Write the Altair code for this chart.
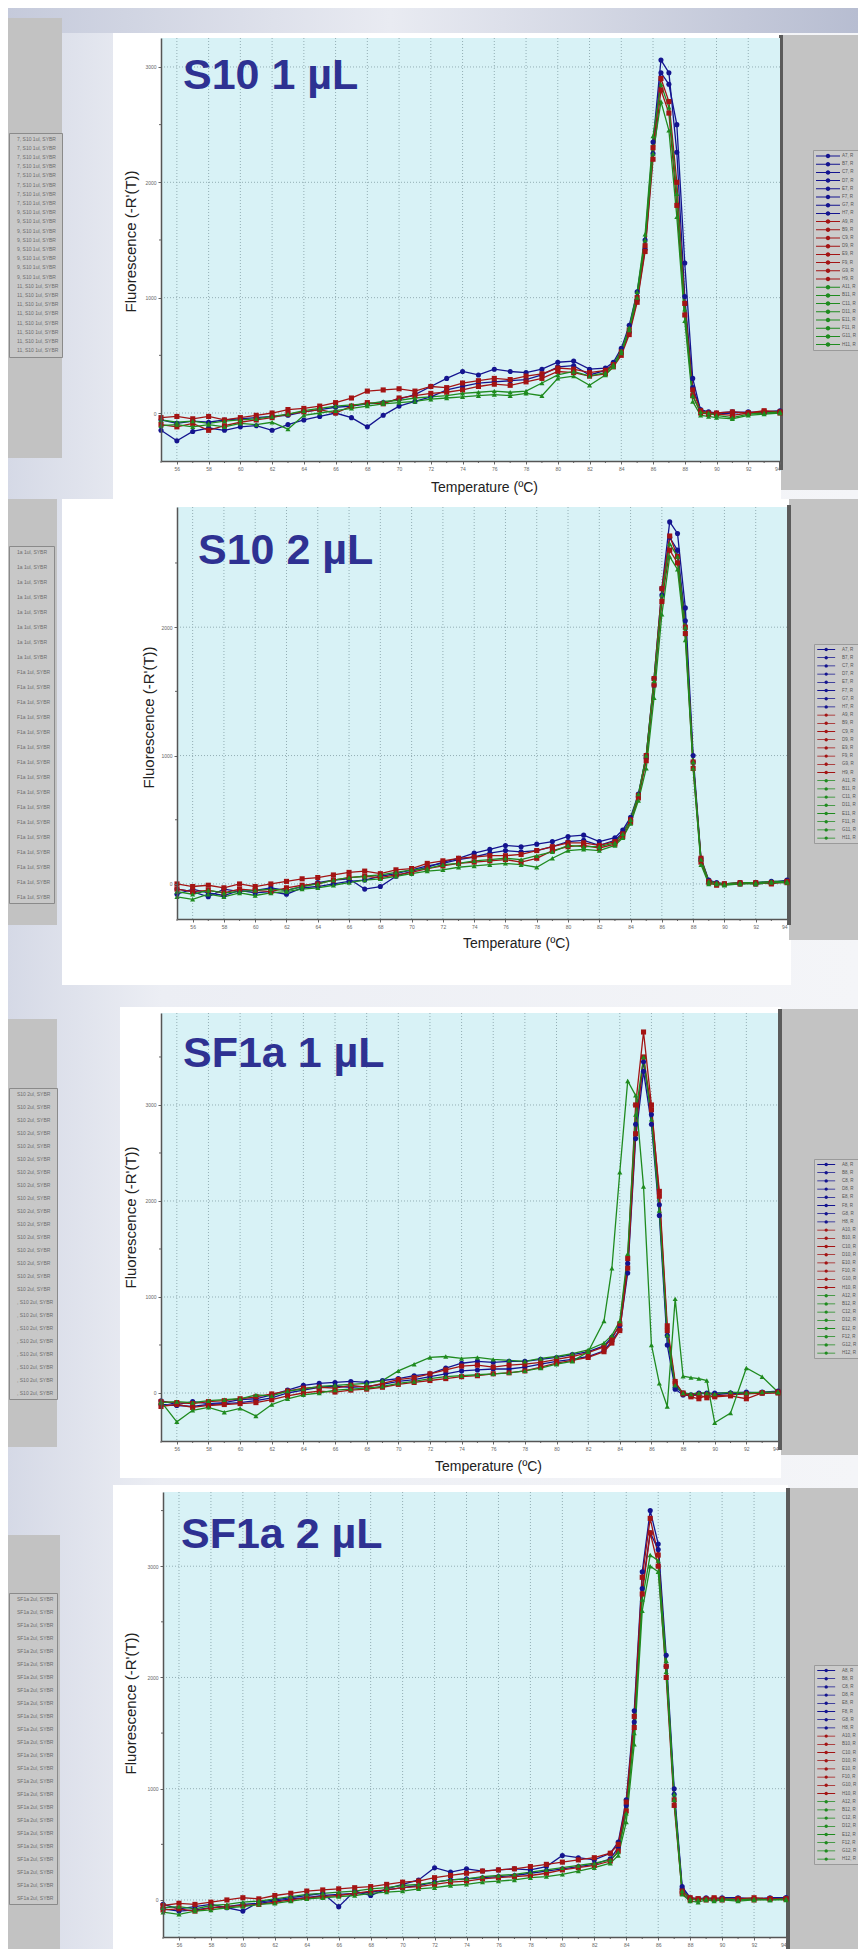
import altair as alt
import pandas as pd

FONT = "Liberation Sans, Arial, sans-serif"

# ---------------- data ----------------
TEMPS = [55, 56, 57, 58, 59, 60, 61, 62, 63, 64, 65, 66, 67, 68, 69, 70, 71, 72, 73, 74,
         75, 76, 77, 78, 79, 80, 81, 82, 83, 83.5, 84, 84.5, 85, 85.5, 86, 86.5, 87, 87.5,
         88, 88.5, 89, 89.5, 90, 91, 92, 93, 94]
X_TICKS = [56, 58, 60, 62, 64, 66, 68, 70, 72, 74, 76, 78, 80, 82, 84, 86, 88, 90, 92, 94]
X_MINOR = [55, 57, 59, 61, 63, 65, 67, 69, 71, 73, 75, 77, 79, 81, 83, 85, 87, 89, 91, 93]
GRID_X = [56, 58, 60, 62, 64, 66, 68, 70, 72, 74, 76, 78, 80, 82, 84, 86, 88, 90, 92]

TITLES = ["S10 1 µL", "S10 2 µL", "SF1a 1 µL", "SF1a 2 µL"]
Y_TITLE = "Fluorescence (-R'(T))"
X_TITLE = "Temperature (ºC)"

# Panel 1 : S10 1 uL
P1_BLUE_A = [-60, -90, -70, -80, -60, -50, -40, -30, -20, 10, 30, 50, 60, 80, 90, 120, 160, 230, 300, 360, 330, 380, 360, 350, 380, 440, 450, 380, 390,
             440, 560, 760, 1050, 1500, 2350, 3060, 2950, 2260, 1010, 220, 30, 10, 0, 10, 0, 10, 20]
P1_BLUE_B = [-150, -240, -160, -130, -150, -120, -110, -150, -100, -60, -30, 0, -40, -120, -20, 60, 100, 140, 200, 230, 260, 270, 280, 290, 330, 400, 410, 330, 370,
             420, 520, 700, 980, 1420, 2250, 2950, 2850, 2500, 1300, 300, 20, 0, -10, 0, 10, 0, 10]
P1_RED_A = [-40, -30, -50, -30, -60, -40, -20, 0, 30, 40, 60, 90, 130, 190, 200, 210, 190, 230, 220, 260, 280, 300, 290, 320, 340, 390, 380, 350, 370,
            420, 530, 720, 1000, 1450, 2300, 2900, 2700, 2000, 950, 200, 20, 0, 0, 10, 0, 20, 10]
P1_RED_B = [-100, -120, -90, -150, -110, -80, -60, -40, -10, 10, 30, 0, 60, 90, 80, 130, 150, 170, 180, 200, 230, 250, 240, 270, 300, 360, 350, 320, 340,
            400, 500, 680, 960, 1400, 2200, 2800, 2600, 1800, 850, 150, 0, -10, -10, -20, 0, 10, 0]
P1_GREEN_A = [-60, -80, -70, -90, -70, -60, -50, -30, -10, 20, 40, 60, 70, 80, 100, 110, 130, 140, 150, 170, 180, 190, 180, 190, 260, 330, 360, 320, 350,
              420, 540, 740, 1050, 1550, 2400, 2850, 2650, 1900, 900, 150, 10, 0, -20, -40, -10, 0, 10]
P1_GREEN_B = [-110, -100, -120, -100, -120, -90, -100, -80, -140, -20, 0, 20, 40, 60, 80, 90, 100, 120, 130, 140, 150, 160, 150, 170, 150, 300, 320, 240, 330,
              400, 520, 720, 1000, 1500, 2250, 2700, 2450, 1700, 800, 100, -20, -30, -40, -50, -20, -10, 0]

# Panel 2 : S10 2 uL
P2_BLUE_A = [-40, -60, -100, -40, -60, -50, -30, -50, -20, 10, 30, 40, -40, -20, 60, 100, 130, 170, 200, 240, 270, 300, 290, 310, 330, 370, 380, 330, 360,
             420, 520, 700, 1000, 1600, 2300, 2820, 2730, 2150, 1000, 200, 30, 10, 0, 0, 10, 20, 20]
P2_BLUE_B = [-80, -40, -70, -90, -50, -70, -60, -80, -30, -20, 0, 20, 30, 60, 80, 110, 140, 160, 190, 210, 240, 260, 250, 260, 290, 330, 340, 300, 340,
             400, 500, 680, 980, 1550, 2250, 2700, 2600, 2050, 950, 180, 20, 0, 0, 10, 0, 10, 30]
P2_RED_A = [0, -20, -10, -30, 0, -20, 0, 20, 40, 50, 70, 90, 100, 80, 110, 120, 160, 180, 200, 210, 220, 220, 230, 260, 290, 320, 320, 300, 330,
            390, 500, 690, 1000, 1600, 2300, 2710, 2550, 2000, 950, 200, 20, 0, 0, 10, 0, 10, 10]
P2_RED_B = [-40, -60, -50, -70, -40, -50, -60, -30, -10, 0, 30, 50, 60, 50, 70, 90, 120, 140, 160, 170, 180, 190, 170, 200, 260, 290, 300, 280, 310,
            370, 480, 670, 960, 1550, 2200, 2600, 2500, 1950, 900, 170, 10, -10, 0, 0, 10, 0, 20]
P2_GREEN_A = [-60, -80, -50, -70, -60, -50, -40, -50, -20, 0, 30, 50, 60, 70, 90, 110, 120, 150, 160, 180, 190, 200, 190, 220, 250, 300, 290, 290, 320,
              390, 500, 700, 1000, 1580, 2250, 2650, 2550, 2000, 950, 190, 20, 10, 0, 10, 10, 20, 20]
P2_GREEN_B = [-100, -120, -80, -100, -70, -90, -70, -60, -40, -30, -10, 10, 30, 40, 60, 80, 100, 110, 130, 140, 150, 160, 150, 130, 200, 260, 270, 260, 300,
              360, 470, 650, 900, 1450, 2100, 2550, 2450, 1900, 900, 150, 0, 0, -10, 0, 0, 10, 10]

# Panel 3 : SF1a 1 uL
P3_BLUE_A = [-80, -120, -90, -110, -100, -70, -60, -20, 30, 80, 100, 110, 120, 110, 130, 150, 180, 200, 260, 310, 330, 320, 330, 330, 350, 370, 400, 430, 490,
             580, 700, 1350, 2800, 3450, 2900, 1960, 600, 60, 0, -20, 0, -10, 0, 0, -10, 10, 20]
P3_BLUE_B = [-120, -130, -140, -120, -110, -100, -80, -50, 0, 30, 60, 70, 60, 70, 90, 120, 140, 170, 200, 230, 240, 250, 250, 270, 300, 330, 350, 380, 440,
             540, 660, 1250, 2650, 3350, 2800, 1850, 500, 40, -20, -30, -10, 0, -20, 0, 10, 0, 10]
P3_RED_A = [-90, -100, -110, -90, -80, -60, -40, -10, 20, 50, 60, 50, 80, 60, 100, 140, 160, 200, 240, 280, 290, 270, 290, 300, 320, 350, 380, 420, 480,
            560, 720, 1400, 3000, 3760, 3000, 2050, 650, 100, 0, -40, -60, -20, -40, -30, -60, 0, 10]
P3_RED_B = [-140, -120, -150, -130, -120, -110, -100, -70, -30, 0, 20, 10, 30, 40, 60, 90, 110, 130, 150, 170, 180, 200, 210, 230, 270, 310, 340, 370, 430,
            520, 650, 1300, 2700, 3500, 2950, 2100, 700, 120, -10, -30, -20, -50, -30, -20, -10, 0, 0]
P3_GREEN_A = [-100, -90, -100, -80, -70, -60, -20, -30, 20, 40, 70, 80, 90, 100, 130, 230, 300, 370, 380, 360, 370, 350, 340, 330, 360, 380, 410, 450, 520,
              600, 750, 1450, 2900, 3500, 2850, 1900, 600, 80, 0, -10, 0, 0, -10, 10, 0, 10, 10]
P3_GREEN_B = [-90, -300, -180, -150, -200, -160, -240, -120, -60, -20, 0, 30, 40, 50, 70, 100, 120, 150, 170, 180, 190, 200, 210, 230, 260, 300, 330, 430, 750,
              1300, 2300, 3250, 3100, 2150, 500, 100, -140, 980, 175, 160, 150, 130, -310, -210, 260, 170, 10]

# Panel 4 : SF1a 2 uL
P4_BLUE_A = [-40, -80, -60, -40, -70, -100, -20, 0, 20, 40, 60, -60, 80, 40, 100, 140, 180, 290, 250, 280, 260, 270, 280, 270, 300, 400, 380, 360, 420,
             520, 900, 1700, 2950, 3500, 3200, 2200, 1000, 120, 20, 10, 20, 10, 20, 20, 10, 20, 20]
P4_BLUE_B = [-80, -100, -90, -70, -60, -40, -30, -10, 10, 20, 40, 50, 60, 70, 90, 110, 130, 160, 180, 190, 200, 210, 220, 240, 260, 280, 300, 320, 370,
             470, 850, 1600, 2800, 3300, 3150, 2100, 950, 100, 10, 0, 10, 0, 10, 0, 10, 10, 20]
P4_RED_A = [-50, -30, -40, -20, 0, 20, 10, 40, 60, 80, 90, 100, 110, 120, 140, 160, 170, 200, 220, 240, 260, 270, 280, 300, 320, 340, 360, 380, 420,
            500, 880, 1650, 2900, 3430, 3100, 2100, 900, 80, 20, 10, 10, 20, 10, 10, 20, 10, 10]
P4_RED_B = [-90, -80, -100, -70, -60, -50, -40, -20, 0, 20, 30, 40, 60, 80, 90, 110, 120, 140, 160, 170, 190, 200, 210, 220, 240, 270, 290, 310, 350,
            440, 800, 1550, 2750, 3300, 3000, 2000, 850, 60, 0, 10, 0, 10, 0, 10, 0, 10, 10]
P4_GREEN_A = [-70, -60, -80, -50, -40, -20, -10, 10, 30, 50, 60, 70, 80, 100, 110, 130, 140, 160, 180, 190, 210, 220, 230, 250, 270, 290, 310, 330, 360,
              430, 780, 1500, 2700, 3100, 3050, 2150, 950, 80, 10, 0, 10, 0, 10, 0, 10, 0, 10]
P4_GREEN_B = [-110, -130, -100, -90, -70, -60, -40, -30, -10, 10, 20, 30, 40, 60, 70, 80, 100, 110, 130, 140, 160, 170, 180, 200, 210, 230, 260, 290, 330,
              400, 700, 1400, 2600, 3000, 2950, 2050, 900, 50, -10, -20, 0, -10, 0, -10, 0, 0, 0]

ROWS_AH = ["A", "B", "C", "D", "E", "F", "G", "H"]
COLS_ODD = [7, 9, 11]
COLS_EVEN = [8, 10, 12]
LEFT_SUFFIX = [", S10 1ul, SYBR", ", SF1a 1ul, SYBR", ", S10 2ul, SYBR", ", SF1a 2ul, SYBR"]

BLUE, RED, GREEN = "#14148f", "#a31414", "#1f8b1f"

SVG_W, SVG_H = 850, 1941   # drawing area (page minus the 8px body margin)

# ---------------- layout (page pixel geometry) ----------------
PANELS = [
    dict(title=TITLES[0], curves=[P1_BLUE_A, P1_BLUE_B, P1_RED_A, P1_RED_B, P1_GREEN_A, P1_GREEN_B],
         cols=COLS_ODD, left_cols=COLS_ODD, left_suffix=LEFT_SUFFIX[0], left_cut=1,
         origin=(161, 38), size=(619, 423), ydom=[-416, 3251], yticks=[0, 1000, 2000, 3000],
         yminor=[500, 1500, 2500],
         frame=(113, 33, 781, 499), right=(781, 35, 858, 490), sep=(779, 35, 783, 470),
         left=(8, 18, 62, 458), leftleg=(9, 133, 3.2), rightleg=(813, 150, 36, 2.2),
         tpos=(183, 89), ytitle=(130, 241), xtitle=(484, 487)),
    dict(title=TITLES[1], curves=[P2_BLUE_A, P2_BLUE_B, P2_RED_A, P2_RED_B, P2_GREEN_A, P2_GREEN_B],
         cols=COLS_ODD, left_cols=COLS_EVEN, left_suffix=LEFT_SUFFIX[1], left_cut=6,
         origin=(177, 507), size=(610, 412), ydom=[-273, 2936], yticks=[0, 1000, 2000],
         yminor=[500, 1500, 2500],
         frame=(62, 499, 791, 985), right=(789, 499, 858, 940), sep=(787, 505, 791, 925),
         left=(8, 499, 57, 925), leftleg=(9, 546, 9), rightleg=(814, 644, 20, 2.2),
         tpos=(198, 564), ytitle=(148, 717), xtitle=(516, 943)),
    dict(title=TITLES[2], curves=[P3_BLUE_A, P3_BLUE_B, P3_RED_A, P3_RED_B, P3_GREEN_A, P3_GREEN_B],
         cols=COLS_EVEN, left_cols=COLS_ODD, left_suffix=LEFT_SUFFIX[2], left_cut=3,
         origin=(161, 1013), size=(617, 428), ydom=[-500, 3958], yticks=[0, 1000, 2000, 3000],
         yminor=[500, 1500, 2500, 3500],
         frame=(120, 1007, 781, 1478), right=(781, 1009, 858, 1455), sep=(778, 1009, 782, 1450),
         left=(8, 1019, 57, 1447), leftleg=(9, 1088, 7), rightleg=(814, 1159, 20, 2.2),
         tpos=(183, 1067), ytitle=(130, 1217), xtitle=(488, 1466)),
    dict(title=TITLES[3], curves=[P4_BLUE_A, P4_BLUE_B, P4_RED_A, P4_RED_B, P4_GREEN_A, P4_GREEN_B],
         cols=COLS_EVEN, left_cols=COLS_EVEN, left_suffix=LEFT_SUFFIX[3], left_cut=4,
         origin=(163, 1492), size=(623, 445), ydom=[-333, 3667], yticks=[0, 1000, 2000, 3000],
         yminor=[500, 1500, 2500, 3500],
         frame=(113, 1485, 788, 1949), right=(788, 1488, 858, 1949), sep=(786, 1488, 790, 1949),
         left=(8, 1535, 60, 1949), leftleg=(9, 1593, 7), rightleg=(814, 1665, 20, 2.2),
         tpos=(181, 1548), ytitle=(130, 1703), xtitle=None),
]

LEGEND_PATH = ("M-1,-0.17H7V0.17H-1Z "
               "M3.75,0A0.75,0.75,0,1,1,2.25,0A0.75,0.75,0,1,1,3.75,0Z")

ONE = pd.DataFrame({"k": [0]})


def sx(px):
    return px - 8


def sy(py):
    return py - 8


def box(x1, y1, x2, y2, color):
    return alt.Chart(ONE).mark_rect(color=color).encode(
        x=alt.value(sx(x1)), x2=alt.value(sx(x2)),
        y=alt.value(sy(y1)), y2=alt.value(sy(y2)))


def well_list(cols):
    return [r + str(c) for c in cols for r in ROWS_AH]


def decor(cfg):
    ox, oy = cfg["origin"]
    w, h = cfg["size"]
    out = []
    fx1, fy1, fx2, fy2 = cfg["frame"]
    out.append(box(fx1, fy1, fx2, fy2, "#ffffff"))
    lx1, ly1, lx2, ly2 = cfg["left"]
    out.append(box(lx1, ly1, lx2, ly2, "#c2c2c2"))
    gx1, gy1, gx2, gy2 = cfg["right"]
    out.append(box(gx1, gy1, gx2, gy2, "#c3c3c3"))
    s1, s2, s3, s4 = cfg["sep"]
    out.append(box(s1, s2, s3, s4, "#5b5b5b"))
    out.append(box(ox, oy, ox + w, oy + h, "#d8f2f6"))
    return out


def panel(cfg):
    ox, oy = cfg["origin"]
    w, h = cfg["size"]
    wells = well_list(cfg["cols"])
    colors24 = [BLUE] * 8 + [RED] * 8 + [GREEN] * 8
    groups = ["b", "b", "r", "r", "g", "g"]
    names = [wells[0], wells[4], wells[8], wells[12], wells[16], wells[20]]
    recs = []
    for name, grp, vals in zip(names, groups, cfg["curves"]):
        for t, v in zip(TEMPS, vals):
            recs.append({"T": t, "v": v, "well": name, "grp": grp})
    df = pd.DataFrame(recs)

    xs = alt.Scale(domain=[55, 94], range=[sx(ox), sx(ox + w)], nice=False, zero=False)
    ys = alt.Scale(domain=cfg["ydom"], range=[sy(oy + h), sy(oy)], nice=False, zero=False)

    common = dict(format="d", grid=False, zindex=1,
                  labelFontSize=5, labelColor="#666666", labelFont=FONT, labelPadding=2,
                  tickSize=3, tickColor="#666666", domainColor="#555555", domainWidth=1.5,
                  titleFont=FONT, titleFontWeight="normal", titleColor="#222222")
    xt = cfg["xtitle"]
    x_off = sy(oy + h) - SVG_H
    if xt is None:
        xa = alt.Axis(orient="bottom", offset=x_off, values=X_TICKS, title="", **common)
    else:
        xa = alt.Axis(orient="bottom", offset=x_off, values=X_TICKS, title=X_TITLE,
                      titleFontSize=14, titleX=sx(xt[0]), titleY=xt[1] - (oy + h),
                      titleBaseline="middle", titleAlign="center", **common)
    ya = alt.Axis(orient="left", offset=-sx(ox), values=cfg["yticks"], title=Y_TITLE,
                  titleFontSize=15, titleAngle=270, titleX=cfg["ytitle"][0] - ox,
                  titleY=sy(cfg["ytitle"][1]), titleBaseline="middle", titleAlign="center",
                  **common)

    grid_x = alt.Chart(pd.DataFrame({"T": GRID_X})).mark_rule(
        color="#93aeb4", strokeDash=[1, 2], strokeWidth=1).encode(
        x=alt.X("T:Q", scale=xs, axis=xa),
        y=alt.value(sy(oy)), y2=alt.value(sy(oy + h)))
    grid_y = alt.Chart(pd.DataFrame({"v": cfg["yticks"]})).mark_rule(
        color="#93aeb4", strokeDash=[1, 2], strokeWidth=1).encode(
        y=alt.Y("v:Q", scale=ys, axis=ya),
        x=alt.value(sx(ox)), x2=alt.value(sx(ox + w)))
    # minor tick marks on both axes
    minor_x = alt.Chart(pd.DataFrame({"T": X_MINOR})).mark_rule(
        color="#666666", strokeWidth=1).encode(
        x=alt.X("T:Q", scale=xs, axis=xa),
        y=alt.value(sy(oy + h)), y2=alt.value(sy(oy + h) + 2))
    minor_y = alt.Chart(pd.DataFrame({"v": cfg["yminor"]})).mark_rule(
        color="#666666", strokeWidth=1).encode(
        y=alt.Y("v:Q", scale=ys, axis=ya),
        x=alt.value(sx(ox) - 2), x2=alt.value(sx(ox)))

    lines = alt.Chart(df).mark_line(strokeWidth=1.3).encode(
        x=alt.X("T:Q", scale=xs, axis=xa),
        y=alt.Y("v:Q", scale=ys, axis=ya),
        stroke=alt.Stroke("well:N", scale=alt.Scale(domain=wells, range=colors24), legend=None),
    )
    points = alt.Chart(df).mark_point(filled=True, size=26, opacity=1).encode(
        x=alt.X("T:Q", scale=xs, axis=xa),
        y=alt.Y("v:Q", scale=ys, axis=ya),
        fill=alt.Fill("well:N", scale=alt.Scale(domain=wells, range=colors24), legend=None),
        shape=alt.Shape("grp:N", scale=alt.Scale(domain=["b", "r", "g"],
                                                 range=["circle", "square", "triangle-up"]),
                        legend=None),
    )

    # right-hand well legend (its own colour channel and label domain)
    lg_x, lg_y, lg_size, lg_pad = cfg["rightleg"]
    leg_labels = [wl + ", R" for wl in wells]
    right_leg = alt.Chart(pd.DataFrame({"lab": leg_labels})).mark_point(
        filled=True, opacity=0).encode(
        x=alt.value(0), y=alt.value(0),
        color=alt.Color("lab:N", scale=alt.Scale(domain=leg_labels, range=colors24),
                        legend=alt.Legend(orient="none", legendX=sx(lg_x), legendY=sy(lg_y),
                                          title=None, columns=1, symbolType=LEGEND_PATH,
                                          symbolSize=lg_size, symbolStrokeWidth=0,
                                          symbolOpacity=1,
                                          labelOffset=20, labelFontSize=4.5, labelFont=FONT,
                                          labelColor="#555555",
                                          rowPadding=lg_pad, padding=3,
                                          fillColor="#cbcbcb", strokeColor="#9a9a9a")))

    # left strip list (a cut-off legend of a neighbouring slide panel)
    left_labels = [wl + cfg["left_suffix"] for wl in well_list(cfg["left_cols"])]
    llx, lly, lpad = cfg["leftleg"]
    left_leg = alt.Chart(pd.DataFrame({"lab": left_labels})).mark_rule(opacity=0).encode(
        x=alt.value(0), y=alt.value(0), y2=alt.value(1),
        strokeDash=alt.StrokeDash("lab:N", scale=alt.Scale(domain=left_labels),
                                  legend=alt.Legend(orient="none", legendX=sx(llx), legendY=sy(lly),
                                                    title=None, columns=1, symbolSize=0,
                                                    symbolStrokeWidth=0, symbolOpacity=0,
                                                    labelOffset=0, labelFontSize=5, labelFont=FONT,
                                                    labelColor="#6e6e6e",
                                                    labelExpr="slice(datum.label, %d)" % cfg["left_cut"],
                                                    rowPadding=lpad, padding=3,
                                                    fillColor="#c8c8c8", strokeColor="#8a8a8a")))

    tx, ty = cfg["tpos"]
    title = alt.Chart(pd.DataFrame({"t": [cfg["title"]]})).mark_text(
        font=FONT, fontSize=43, fontWeight="bold", color="#2e3192",
        align="left", baseline="alphabetic").encode(
        text="t:N", x=alt.value(sx(tx)), y=alt.value(sy(ty)))

    return alt.layer(grid_x, grid_y, minor_x, minor_y, lines, points, right_leg, left_leg, title)


back = alt.Gradient(gradient="linear", x1=0, x2=1, y1=0, y2=0,
                    stops=[alt.GradientStop(color="#d5d9e6", offset=0),
                           alt.GradientStop(color="#eceef4", offset=0.18),
                           alt.GradientStop(color="#f4f5f8", offset=1)])
band = alt.Gradient(gradient="linear", x1=0, x2=1, y1=0, y2=0,
                    stops=[alt.GradientStop(color="#c5cadb", offset=0),
                           alt.GradientStop(color="#e9ebf2", offset=0.45),
                           alt.GradientStop(color="#b7bdd1", offset=1)])

layers = [box(8, 8, 858, 1949, back), box(8, 8, 858, 33, band)]
for p in PANELS:
    layers += decor(p)
for p in PANELS:
    layers.append(panel(p))

chart = alt.layer(*layers).resolve_scale(
    x="independent", y="independent", stroke="independent", fill="independent",
    shape="independent", strokeDash="independent", color="independent"
).properties(
    width=SVG_W, height=SVG_H, padding=0, background="#f2f3f7",
    autosize=alt.AutoSizeParams(type="none")
).configure_view(strokeWidth=0)

chart.save("out.html", embed_options={"renderer": "svg", "actions": False})
